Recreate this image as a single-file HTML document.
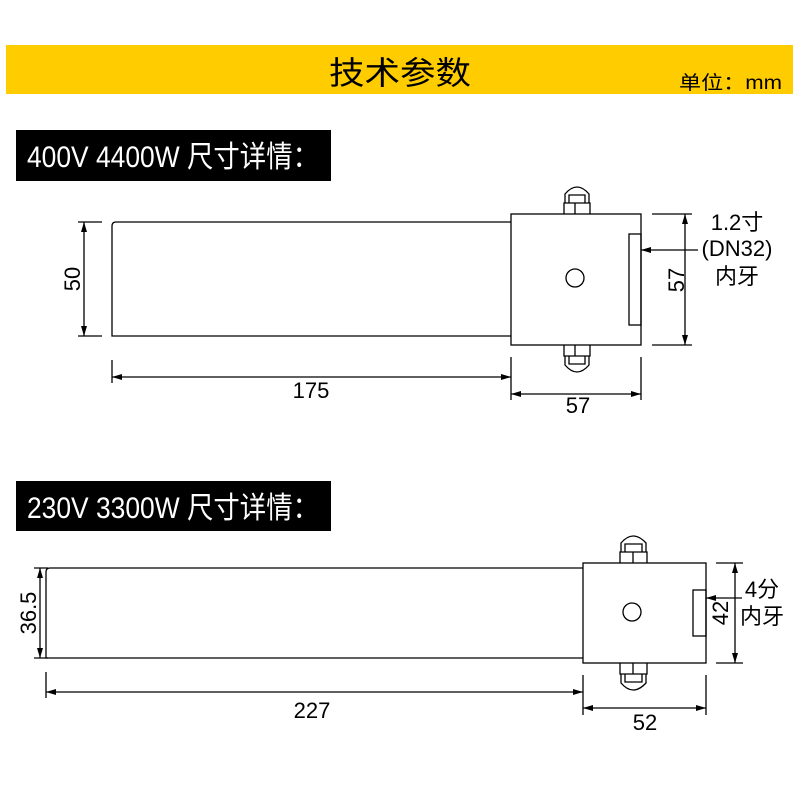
<!DOCTYPE html>
<html><head><meta charset="utf-8"><style>
html,body{margin:0;padding:0;background:#fff;}
svg{display:block;}
text{font-family:"Liberation Sans","Noto Sans CJK SC",sans-serif;}
</style></head><body>
<svg width="800" height="800" viewBox="0 0 800 800" xmlns="http://www.w3.org/2000/svg">
<defs>
<marker id="a" viewBox="0 0 10 6" refX="10" refY="3" markerWidth="10" markerHeight="6" orient="auto-start-reverse" markerUnits="userSpaceOnUse"><path d="M0,0 L10,3 L0,6 z" fill="#000"/></marker>
</defs>
<rect x="6" y="45" width="787" height="49" fill="#FFCC00"/>
<text x="400" y="84" font-size="32" text-anchor="middle" textLength="142" lengthAdjust="spacingAndGlyphs">技术参数</text>
<text x="679" y="89" font-size="19" textLength="103" lengthAdjust="spacingAndGlyphs">单位：mm</text>

<rect x="16" y="130" width="315" height="51" fill="#000"/>
<text x="27" y="167" font-size="30" fill="#fff" textLength="292" lengthAdjust="spacingAndGlyphs">400V 4400W 尺寸详情：</text>
<rect x="16" y="481" width="315" height="50" fill="#000"/>
<text x="27" y="518" font-size="30" fill="#fff" textLength="292" lengthAdjust="spacingAndGlyphs">230V 3300W 尺寸详情：</text>

<g fill="none" stroke="#000" stroke-width="1.3">
<!-- diagram 1 -->
<path d="M511,222 H116 Q112,222 112,226 V336 H511"/>
<rect x="511" y="214" width="130" height="131"/>
<rect x="629" y="234" width="12" height="91"/>
<circle cx="575" cy="278" r="9"/>
<path d="M564,214 V203 H590 V214 M575,203 V214 M565,203 V194 Q577,180 589,194 V203 M569,203 V195 H585 V203"/>
<path d="M564,345 V356 H590 V345 M575,345 V356 M565,356 V365 Q577,379 589,365 V356 M569,356 V364 H585 V356"/>
<path d="M78,222 H102 M78,336 H102"/>
<line x1="84" y1="222" x2="84" y2="336" marker-start="url(#a)" marker-end="url(#a)"/>
<path d="M652,214 H692 M652,345 H692"/>
<line x1="685" y1="214" x2="685" y2="345" marker-start="url(#a)" marker-end="url(#a)"/>
<line x1="698" y1="250" x2="641" y2="250" marker-end="url(#a)"/>
<path d="M112,360 V383 M511,357 V400 M641,357 V400"/>
<line x1="112" y1="377" x2="511" y2="377" marker-start="url(#a)" marker-end="url(#a)"/>
<line x1="511" y1="394" x2="641" y2="394" marker-start="url(#a)" marker-end="url(#a)"/>
<!-- diagram 2 -->
<path d="M583,568 H50 Q46,568 46,572 V658 H583"/>
<rect x="583" y="563" width="123" height="100"/>
<rect x="693" y="590" width="13" height="46"/>
<circle cx="632" cy="612" r="9"/>
<path d="M620,563 V552 H647 V563 M633,552 V563 M621,552 V543 Q633,529 646,543 V552 M625,552 V544 H642 V552"/>
<path d="M620,663 V674 H647 V663 M633,663 V674 M621,674 V683 Q633,697 646,683 V674 M625,674 V682 H642 V674"/>
<path d="M34,568 H48 M34,658 H48"/>
<line x1="40" y1="568" x2="40" y2="658" marker-start="url(#a)" marker-end="url(#a)"/>
<path d="M716,563 H743 M716,663 H743"/>
<line x1="735" y1="563" x2="735" y2="663" marker-start="url(#a)" marker-end="url(#a)"/>
<line x1="742" y1="598" x2="706" y2="598" marker-end="url(#a)"/>
<path d="M46,672 V698 M583,675 V715 M706,675 V715"/>
<line x1="46" y1="692" x2="583" y2="692" marker-start="url(#a)" marker-end="url(#a)"/>
<line x1="583" y1="708" x2="706" y2="708" marker-start="url(#a)" marker-end="url(#a)"/>
</g>

<g font-size="22" fill="#000">
<text x="311" y="398" text-anchor="middle">175</text>
<text x="578" y="413" text-anchor="middle">57</text>
<text transform="translate(80,279) rotate(-90)" text-anchor="middle">50</text>
<text transform="translate(684,280) rotate(-90)" text-anchor="middle">57</text>
<text x="737" y="230" text-anchor="middle">1.2寸</text>
<text x="737" y="256" text-anchor="middle">(DN32)</text>
<text x="737" y="284" text-anchor="middle">内牙</text>
<text x="312" y="718" text-anchor="middle">227</text>
<text x="645" y="730" text-anchor="middle">52</text>
<text transform="translate(36,613) rotate(-90)" text-anchor="middle">36.5</text>
<text transform="translate(728,613) rotate(-90)" text-anchor="middle">42</text>
<text x="762" y="597" text-anchor="middle">4分</text>
<text x="762" y="624" text-anchor="middle">内牙</text>
</g>
</svg>
</body></html>
